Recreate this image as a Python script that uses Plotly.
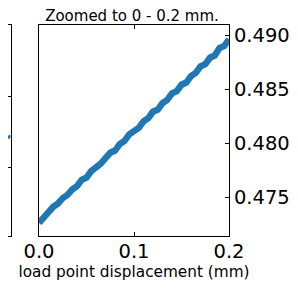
import plotly.graph_objects as go

# Main (zoomed) panel data
disp_mm = [0.000, 0.005, 0.010, 0.015, 0.020, 0.025, 0.030, 0.035, 0.040, 0.045,
           0.050, 0.055, 0.060, 0.065, 0.070, 0.075, 0.080, 0.085, 0.090, 0.095,
           0.100, 0.105, 0.110, 0.115, 0.120, 0.125, 0.130, 0.135, 0.140, 0.145,
           0.150, 0.155, 0.160, 0.165, 0.170, 0.175, 0.180, 0.185, 0.190, 0.195, 0.200]
load_val = [0.4726, 0.4732, 0.4736, 0.4741, 0.4744, 0.4749, 0.4752, 0.4757, 0.4760, 0.4766,
            0.4768, 0.4774, 0.4777, 0.4781, 0.4786, 0.4791, 0.4793, 0.4799, 0.4802, 0.4808,
            0.4811, 0.4814, 0.4820, 0.4823, 0.4829, 0.4831, 0.4837, 0.4840, 0.4846, 0.4848,
            0.4854, 0.4856, 0.4862, 0.4865, 0.4871, 0.4873, 0.4879, 0.4881, 0.4888, 0.4890, 0.4896]

x_ticks = [0.0, 0.1, 0.2]
x_tick_text = ["0.0", "0.1", "0.2"]
y_ticks = [0.475, 0.480, 0.485, 0.490]
y_tick_text = ["0.475", "0.480", "0.485", "0.490"]

# Sliver of the neighbouring (left) panel visible at the image edge
left_x = [0.0, 1.0]
left_y = [1.39, 1.43]
left_ticks = [0.98, 1.98]

# The page body has an 8px default margin, so the figure is 8px smaller
# and all positions are expressed relative to the figure's own origin.
OFF = 8
W, H = 298 - OFF, 291 - OFF
blue = "#1f77b4"
font_family = "DejaVu Sans"

ax_left, ax_right = 39 - OFF, 229 - OFF
ax_top, ax_bottom = 25 - OFF, 236 - OFF

fig = go.Figure()
fig.add_trace(go.Scatter(x=disp_mm, y=load_val, mode="lines",
                         line=dict(color=blue, width=6.5), showlegend=False,
                         xaxis="x", yaxis="y"))
fig.add_trace(go.Scatter(x=left_x, y=left_y, mode="lines",
                         line=dict(color=blue, width=3), showlegend=False,
                         xaxis="x2", yaxis="y2"))

fig.update_layout(
    width=W, height=H, autosize=False,
    margin=dict(l=0, r=0, t=ax_top, b=H - ax_bottom, pad=0),
    paper_bgcolor="white", plot_bgcolor="white",
    font=dict(family=font_family, color="black"),
    title=dict(text="Zoomed to 0 - 0.2 mm.", x=(132 - OFF) / W, xref="container",
               xanchor="center", y=1 - (16 - OFF) / H, yref="container", yanchor="middle",
               automargin=False,
               font=dict(size=15, family=font_family, color="black")),
    xaxis=dict(domain=[ax_left / W, ax_right / W], range=[0, 0.2], automargin=False,
               tickvals=x_ticks, ticktext=x_tick_text,
               ticks="inside", ticklen=4, tickwidth=1, tickcolor="black",
               showline=True, linecolor="black", linewidth=1, mirror="ticks",
               showgrid=False, zeroline=False, ticklabelstandoff=-2,
               tickfont=dict(size=19.5, family=font_family, color="black"),
               title=dict(text="load point displacement (mm)", standoff=1,
                          font=dict(size=15.3, family=font_family, color="black"))),
    yaxis=dict(range=[0.47139, 0.49093], side="right", automargin=False,
               tickvals=y_ticks, ticktext=y_tick_text,
               ticks="inside", ticklen=4, tickwidth=1, tickcolor="black",
               showline=True, linecolor="black", linewidth=1, mirror=True,
               showgrid=False, zeroline=False,
               tickfont=dict(size=19.5, family=font_family, color="black")),
    xaxis2=dict(domain=[0, 2.5 / W], range=[0, 1], showticklabels=False, automargin=False,
                ticks="", showline=True, linecolor="black", linewidth=1, mirror=True,
                showgrid=False, zeroline=False, anchor="y2"),
    yaxis2=dict(domain=[0, 1], range=[0, 3], side="right", anchor="x2", automargin=False,
                tickvals=left_ticks, showticklabels=False,
                ticks="inside", ticklen=4, tickcolor="black",
                showline=True, linecolor="black", linewidth=1, mirror=True,
                showgrid=False, zeroline=False),
)

fig.write_html("out.html")
